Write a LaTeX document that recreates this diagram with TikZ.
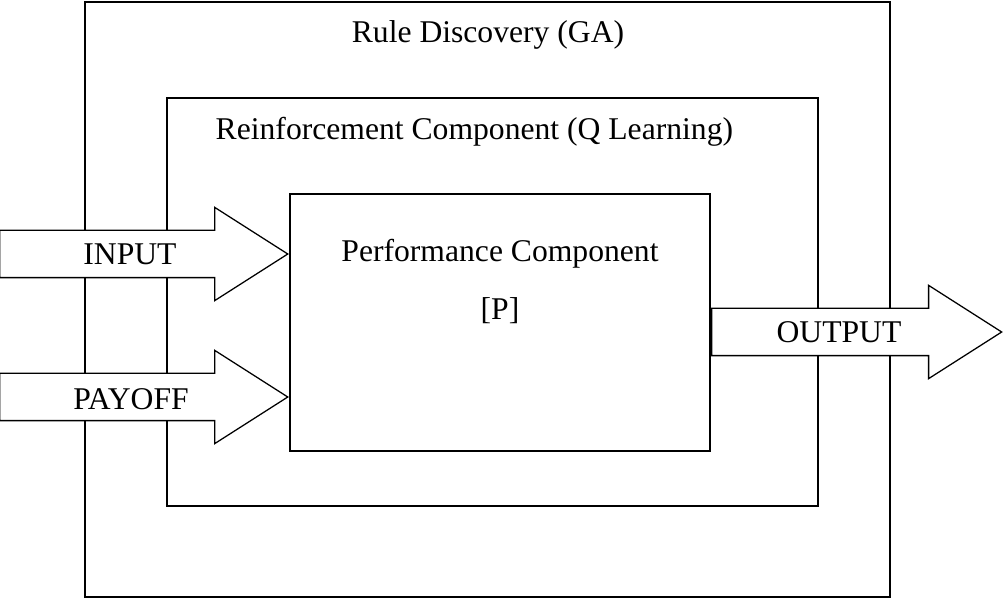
\documentclass[tikz,border=0pt]{standalone}
\usepackage{fontspec}
\setmainfont{Liberation Serif}
\usetikzlibrary{shapes.arrows, positioning}

\tikzset{
  capa/.style={draw=black, line width=1.5pt, fill=none, inner sep=0pt},
  flechaGorda/.style={single arrow, draw=black, fill=white, line width=0.9pt,
    inner xsep=0pt, inner ysep=0.575cm, single arrow head extend=0.575cm,
    single arrow tip angle=65.1, shape border rotate=0},
  rotulo/.style={font=\fontsize{22.5}{27}\selectfont, inner sep=0pt, anchor=base},
}

\begin{document}
\begin{tikzpicture}
  \useasboundingbox (0,0) rectangle (25.075,14.975);
  \fill[white] (0,0) rectangle (25.075,14.975);

  % Capas del sistema
  \node[capa, minimum width=20.125cm, minimum height=14.875cm] (ruleBox) at (12.1875,7.4875) {};
  \node[capa, minimum width=16.275cm, minimum height=10.2cm] (reinfBox) at (12.3125,7.425) {};
  \node[capa, minimum width=10.5cm, minimum height=6.425cm] (perfBox) at (12.5,6.9125) {};

  \node[rotulo] (ruleText) at (12.2,13.9) {Rule Discovery (GA)};
  \node[rotulo] (reinfText) at (11.86,11.475) {Reinforcement Component (Q Learning)};
  \node[rotulo] (perfText) at (12.5,8.425) {Performance Component};
  \node[rotulo] (perfTag) at (12.5,6.975) {[P]};

  % Entradas y salida
  \node[flechaGorda, minimum height=7.2cm, anchor=tip] (inArrow)
    at ([yshift=1.7125cm]perfBox.west) {};
  \node[flechaGorda, minimum height=7.2cm, anchor=tip] (payArrow)
    at ([yshift=-1.8625cm]perfBox.west) {};
  \node[flechaGorda, minimum height=7.25cm, anchor=tail] (outArrow)
    at ([yshift=-0.2375cm]perfBox.east) {};

  \node[rotulo] (inText) at (3.25,8.35) {INPUT};
  \node[rotulo] (payText) at (3.275,4.725) {PAYOFF};
  \node[rotulo] (outText) at (20.975,6.4) {OUTPUT};
\end{tikzpicture}
\end{document}
